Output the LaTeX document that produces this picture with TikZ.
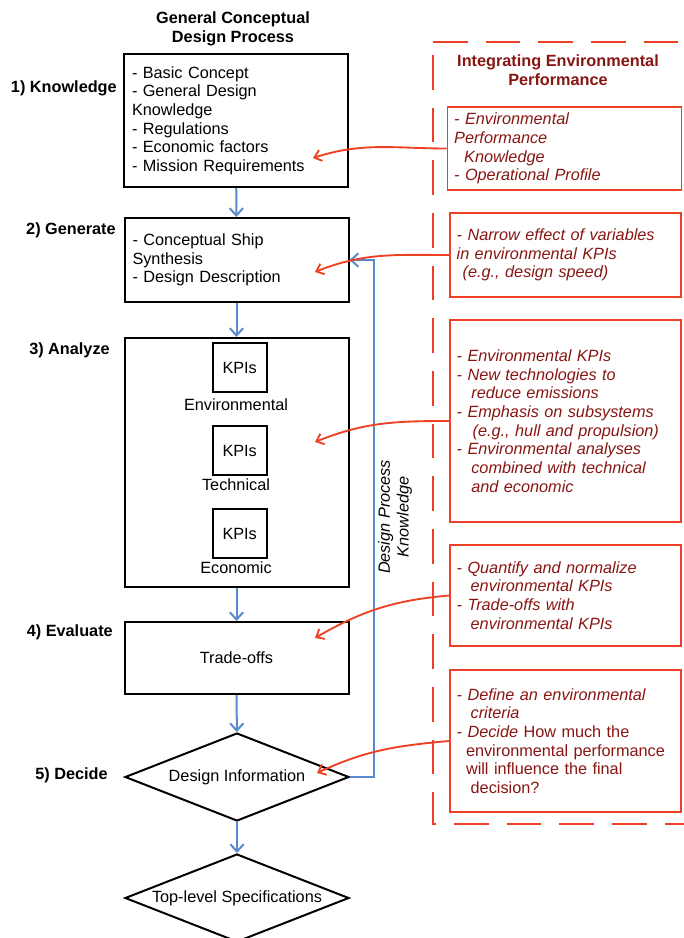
\documentclass[tikz,border=0pt]{standalone}
\usepackage{fontspec}
\setmainfont{Liberation Sans}
\usetikzlibrary{shapes.geometric,arrows.meta}
\definecolor{flowblue}{RGB}{88,138,204}
\definecolor{envred}{RGB}{238,64,36}
\definecolor{envtext}{RGB}{135,22,18}
\newcommand{\basefont}{\fontsize{12.2}{14}\selectfont}

\begin{document}
\begin{tikzpicture}[x=0.75pt,y=-0.75pt,
  heading/.style={font=\basefont\bfseries,align=center},
  stagelabel/.style={font=\basefont\bfseries,anchor=east,inner sep=0pt},
  stagebox/.style={draw=black,line width=1.5pt,inner xsep=6pt,inner ysep=0pt,
    text width=156pt,align=left,font=\basefont},
  kpibox/.style={draw=black,line width=1.5pt,minimum width=40.5pt,minimum height=36.75pt,
    inner sep=0pt,font=\basefont},
  kpilabel/.style={inner sep=0pt,font=\basefont},
  decision/.style={diamond,draw=black,line width=1.5pt,aspect=2.5,minimum width=168pt,
    minimum height=66pt,inner sep=0pt,font=\basefont},
  envbox/.style={draw=envred,line width=1.4pt,inner xsep=5pt,inner ysep=0pt,align=left,
    text=envtext,font=\basefont\itshape},
  flow/.style={draw=flowblue,line width=1.5pt,-{Straight Barb[length=5.5pt,width=10pt]}},
  link/.style={draw=envred,line width=1.4pt,-{Straight Barb[length=5pt,width=8.5pt]}},
  frame/.style={draw=envred,line width=1.6pt,dash pattern=on 26pt off 13.5pt}
]
\useasboundingbox (0,0) rectangle (684,938);

% ---------- general conceptual design process ----------
\node[heading] (maintitle) at (233,29) {General Conceptual\\Design Process};

\node[stagebox,minimum height=99.75pt] (know) at (236,120.5)
  {- Basic Concept\\- General Design\\Knowledge\\- Regulations\\- Economic factors\\- Mission Requirements};
\node[stagebox,minimum height=63pt] (gen) at (236.5,260)
  {- Conceptual Ship\\Synthesis\\- Design Description};
\node[stagebox,minimum height=186.75pt] (ana) at (236.5,462.5) {};
\node[stagebox,minimum height=54pt,align=center] (eval) at (236.5,658) {Trade-offs};
\node[decision] (dec) at (237,777) {Design Information};
\node[decision] (spec) at (237,898) {Top-level Specifications};

% KPI groups inside the analysis box
\node[kpibox] (kpienv) at (239.7,367.5) {KPIs};
\node[kpilabel] (labenv) at (236,405) {Environmental};
\node[kpibox] (kpitech) at (239.7,450.5) {KPIs};
\node[kpilabel] (labtech) at (236,485) {Technical};
\node[kpibox] (kpieco) at (239.7,533.5) {KPIs};
\node[kpilabel] (labeco) at (236,568) {Economic};

% stage labels
\node[stagelabel] (s1) at (117,88) {1) Knowledge};
\node[stagelabel] (s2) at (116,230) {2) Generate};
\node[stagelabel] (s3) at (110,350) {3) Analyze};
\node[stagelabel] (s4) at (113,632) {4) Evaluate};
\node[stagelabel] (s5) at (108,775) {5) Decide};

% main flow
\draw[flow] (know) -- (gen);
\draw[flow] (gen) -- (ana);
\draw[flow] (ana) -- (eval);
\draw[flow] (eval) -- (dec);
\draw[flow] (dec) -- (spec);

% feedback loop
\coordinate (fbtop) at (374,260);
\draw[flow] (dec.east) -| (fbtop) -- (gen.east);
\node[rotate=90,align=center,font=\basefont\itshape] (dpk) at (395,517)
  {Design Process\\Knowledge};

% ---------- environmental performance column ----------
\draw[frame] (433,42) -- (700,42);
\draw[frame] (433,55) -- (433,824) -- (700,824);
\node[heading,text=envtext] (envtitle) at (558,70.5) {Integrating Environmental\\Performance};

\node[envbox,text width=165.5pt,minimum height=62.25pt] (ea) at (564.5,148.5)
  {- Environmental\\Performance\\\hspace*{7.5pt}Knowledge\\- Operational Profile};
\node[envbox,text width=163.25pt,minimum height=63pt] (eb) at (565.5,255)
  {- Narrow effect of variables\\in environmental KPIs\\\hspace*{4.5pt}(e.g., design speed)};
\node[envbox,text width=163.25pt,minimum height=151.5pt] (ec) at (565.5,421)
  {- Environmental KPIs\\- New technologies to\\\hspace*{11pt}reduce emissions\\- Emphasis on subsystems\\\hspace*{12pt}(e.g., hull and propulsion)\\- Environmental analyses\\\hspace*{11pt}combined with technical\\\hspace*{11pt}and economic};
\node[envbox,text width=163.25pt,minimum height=75.75pt] (ed) at (565.5,595.5)
  {- Quantify and normalize\\\hspace*{10.5pt}environmental KPIs\\- Trade-offs with\\\hspace*{10.5pt}environmental KPIs};
\node[envbox,text width=163.25pt,minimum height=106.5pt] (ee) at (565.5,741)
  {- Define an environmental\\\hspace*{10.5pt}criteria\\- Decide {\upshape How much the}\\\upshape\hspace*{7pt}environmental performance\\\upshape\hspace*{7pt}will influence the final\\\upshape\hspace*{10.5pt}decision?};

% targets of the environmental links
\coordinate (ta) at (313,158);
\coordinate (tb) at (315,272);
\coordinate (tc) at (315,442);
\coordinate (td) at (315,638);
\coordinate (te) at (317,773);

\draw[link] (ea.west) to[out=180,in=18] (ta);
\draw[link] (eb.west) to[out=180,in=22] (tb);
\draw[link] (ec.west) to[out=180,in=22] (tc);
\draw[link] (ed.west) to[out=185,in=30] (td);
\draw[link] (ee.west) to[out=185,in=25] (te);
\end{tikzpicture}
\end{document}
